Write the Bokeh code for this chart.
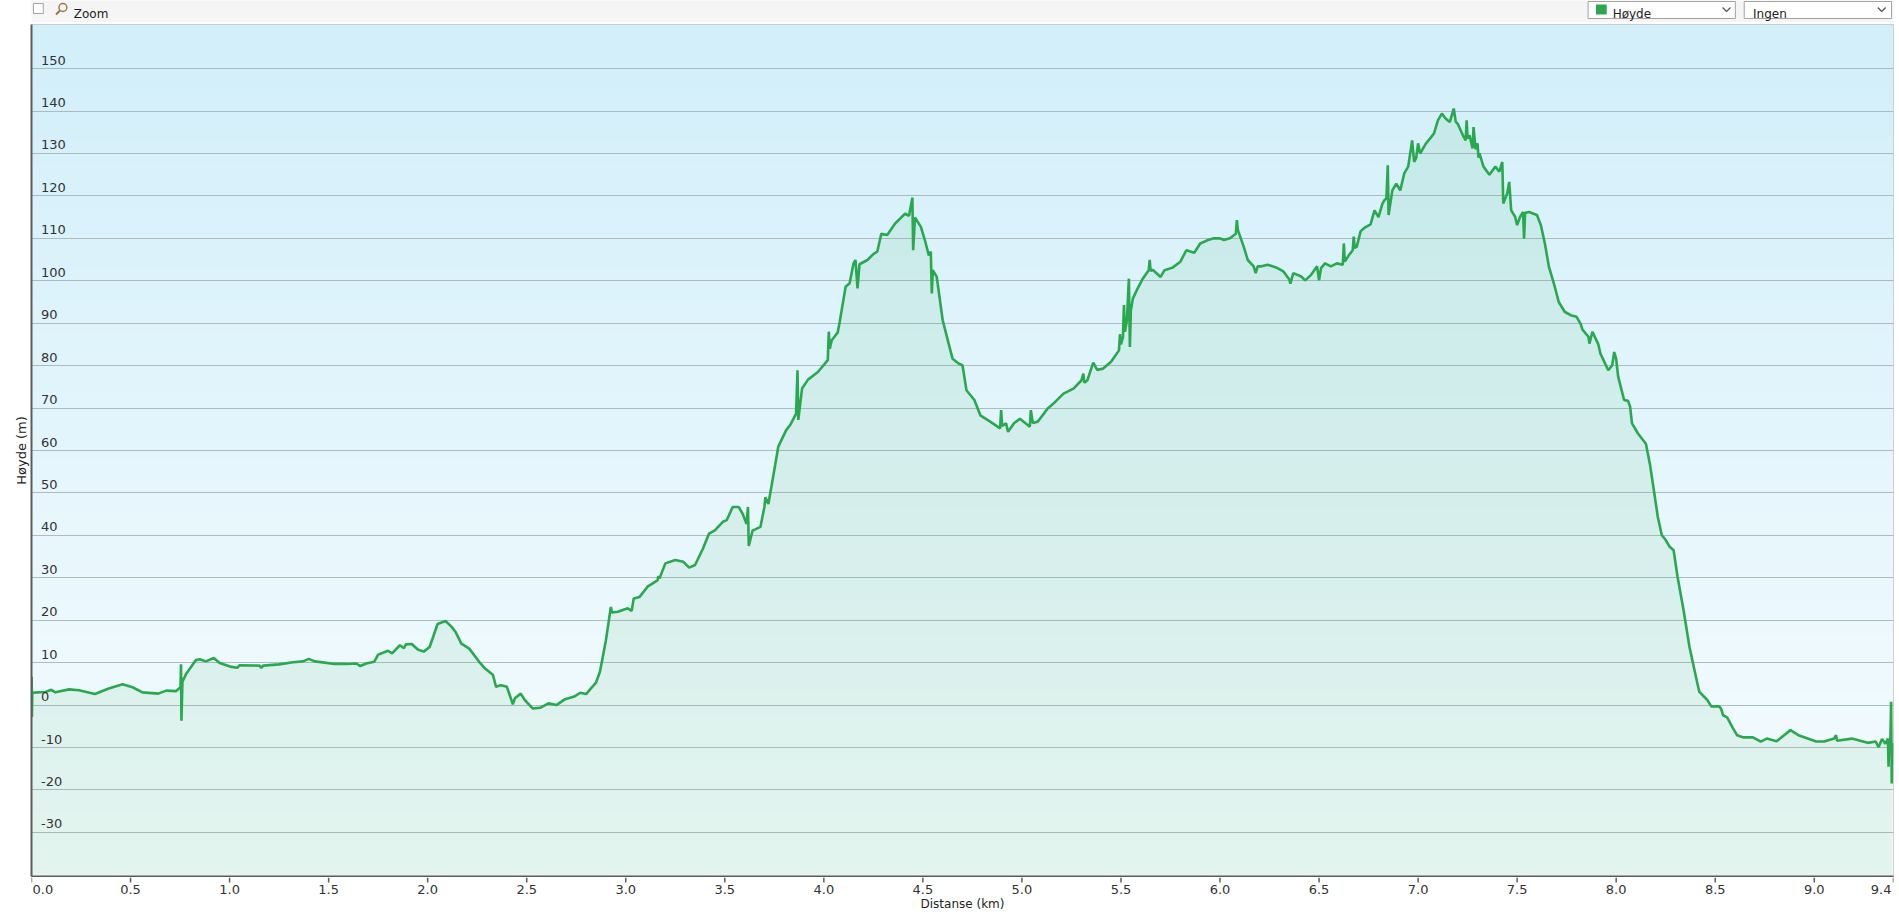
import numpy as np
from bokeh.plotting import figure
from bokeh.layouts import column
from bokeh.models import Range1d, FixedTicker, LabelSet, ColumnDataSource
from bokeh.core.properties import value
from bokeh.embed import file_html
from bokeh.resources import INLINE

# ---------------- data ----------------
distance_km = [
    0.000, 0.001, 0.002, 0.004, 0.03, 0.07, 0.10, 0.12, 0.19, 0.24,
    0.32, 0.39, 0.46, 0.51, 0.56, 0.64, 0.68, 0.73, 0.752, 0.755,
    0.757, 0.762, 0.78, 0.80, 0.83, 0.85, 0.88, 0.92, 0.95, 1.01,
    1.04, 1.05, 1.15, 1.16, 1.17, 1.25, 1.32, 1.37, 1.40, 1.43,
    1.48, 1.53, 1.59, 1.64, 1.66, 1.69, 1.73, 1.75, 1.80, 1.82,
    1.86, 1.88, 1.89, 1.92, 1.95, 1.98, 2.01, 2.05, 2.09, 2.12,
    2.14, 2.17, 2.21, 2.26, 2.29, 2.33, 2.345, 2.37, 2.40, 2.43,
    2.44, 2.47, 2.49, 2.53, 2.57, 2.61, 2.65, 2.69, 2.74, 2.77,
    2.80, 2.82, 2.85, 2.87, 2.90, 2.92, 2.925, 2.93, 2.96, 3.01,
    3.03, 3.04, 3.07, 3.11, 3.16, 3.165, 3.17, 3.20, 3.25, 3.29,
    3.32, 3.35, 3.39, 3.42, 3.45, 3.49, 3.51, 3.54, 3.57, 3.59,
    3.61, 3.617, 3.621, 3.64, 3.68, 3.70, 3.705, 3.72, 3.75, 3.77,
    3.81, 3.83, 3.86, 3.867, 3.871, 3.89, 3.92, 3.97, 4.02, 4.025,
    4.03, 4.04, 4.07, 4.08, 4.11, 4.13, 4.15, 4.16, 4.17, 4.18,
    4.22, 4.25, 4.27, 4.29, 4.32, 4.36, 4.39, 4.41, 4.43, 4.447,
    4.451, 4.46, 4.49, 4.51, 4.53, 4.54, 4.545, 4.55, 4.57, 4.60,
    4.63, 4.65, 4.68, 4.70, 4.72, 4.76, 4.79, 4.84, 4.89, 4.895,
    4.90, 4.92, 4.93, 4.96, 4.99, 5.04, 5.045, 5.055, 5.08, 5.13,
    5.16, 5.21, 5.26, 5.30, 5.31, 5.315, 5.33, 5.36, 5.38, 5.41,
    5.45, 5.49, 5.495, 5.50, 5.51, 5.515, 5.52, 5.53, 5.54, 5.545,
    5.55, 5.56, 5.58, 5.61, 5.64, 5.645, 5.65, 5.66, 5.70, 5.72,
    5.76, 5.80, 5.83, 5.87, 5.90, 5.94, 5.97, 6.00, 6.02, 6.05,
    6.08, 6.085, 6.09, 6.12, 6.14, 6.17, 6.18, 6.19, 6.21, 6.24,
    6.29, 6.32, 6.35, 6.355, 6.37, 6.41, 6.43, 6.46, 6.49, 6.50,
    6.51, 6.53, 6.56, 6.59, 6.62, 6.625, 6.63, 6.65, 6.67, 6.675,
    6.68, 6.69, 6.71, 6.73, 6.76, 6.78, 6.80, 6.82, 6.83, 6.84,
    6.847, 6.851, 6.87, 6.89, 6.91, 6.93, 6.95, 6.97, 6.98, 6.99,
    7.00, 7.01, 7.04, 7.06, 7.08, 7.10, 7.12, 7.14, 7.16, 7.18,
    7.19, 7.20, 7.23, 7.24, 7.245, 7.25, 7.26, 7.275, 7.28, 7.29,
    7.30, 7.305, 7.31, 7.33, 7.36, 7.39, 7.41, 7.425, 7.43, 7.45,
    7.46, 7.47, 7.49, 7.50, 7.515, 7.53, 7.535, 7.54, 7.56, 7.60,
    7.62, 7.64, 7.66, 7.69, 7.71, 7.74, 7.77, 7.80, 7.82, 7.83,
    7.86, 7.865, 7.88, 7.91, 7.92, 7.96, 7.98, 7.99, 8.00, 8.01,
    8.04, 8.06, 8.07, 8.08, 8.11, 8.15, 8.17, 8.19, 8.21, 8.23,
    8.25, 8.27, 8.29, 8.31, 8.34, 8.37, 8.41, 8.42, 8.46, 8.48,
    8.52, 8.53, 8.54, 8.56, 8.59, 8.61, 8.64, 8.69, 8.73, 8.76,
    8.81, 8.88, 8.92, 9.01, 9.05, 9.10, 9.11, 9.115, 9.19, 9.27,
    9.31, 9.325, 9.342, 9.359, 9.372, 9.375, 9.378, 9.384, 9.388, 9.391,
    9.394,
]
elevation_m = [
    2.9, 6.7, -2.8, 2.9, 3.0, 3.1, 3.6, 3.0, 3.7, 3.5,
    2.6, 3.9, 4.9, 4.2, 3.0, 2.7, 3.4, 3.3, 4.2, 9.6,
    -3.7, 5.5, 7.3, 8.6, 10.6, 10.8, 10.3, 11.1, 9.9, 9.0,
    8.8, 9.4, 9.3, 8.8, 9.3, 9.6, 10.1, 10.3, 10.9, 10.3,
    10.0, 9.7, 9.7, 9.8, 9.2, 9.8, 10.2, 11.9, 12.8, 12.2,
    14.1, 13.4, 14.3, 14.4, 13.1, 12.6, 13.7, 19.1, 19.8, 18.5,
    17.3, 14.5, 13.3, 10.2, 8.6, 7.1, 4.3, 4.7, 4.3, 0.2,
    1.6, 2.7, 1.2, -0.8, -0.6, 0.4, 0.0, 1.3, 2.0, 2.9,
    2.6, 3.7, 5.3, 7.9, 15.3, 21.6, 23.1, 21.8, 22.0, 22.8,
    22.2, 25.1, 25.5, 27.9, 29.4, 30.4, 29.8, 33.4, 34.2, 33.8,
    32.4, 33.0, 36.9, 40.4, 41.2, 43.2, 43.6, 46.7, 46.7, 45.1,
    42.7, 46.7, 37.5, 41.1, 42.0, 46.7, 49.0, 47.4, 55.4, 60.9,
    64.8, 66.0, 68.7, 78.9, 67.2, 74.6, 76.7, 78.5, 81.3, 88.0,
    84.0, 86.0, 87.8, 90.3, 98.6, 99.4, 104.1, 104.9, 98.2, 103.9,
    104.9, 106.3, 106.9, 111.1, 110.8, 113.5, 114.9, 115.8, 115.3, 119.6,
    107.2, 114.9, 112.7, 109.6, 106.0, 106.9, 97.0, 102.5, 100.9, 90.7,
    85.2, 81.6, 80.5, 80.1, 74.2, 71.9, 68.3, 66.8, 65.2, 69.5,
    65.8, 66.4, 64.4, 66.4, 67.5, 65.6, 69.5, 66.5, 66.8, 69.9,
    71.1, 73.4, 74.6, 76.5, 78.1, 76.0, 76.5, 80.7, 79.0, 79.3,
    80.9, 83.6, 87.4, 85.0, 86.7, 94.3, 88.0, 90.7, 100.5, 84.4,
    93.0, 95.8, 97.8, 100.5, 102.5, 104.9, 102.3, 102.6, 100.9, 102.5,
    103.1, 104.5, 107.2, 106.6, 108.8, 109.6, 110.0, 110.0, 109.6, 110.0,
    111.1, 114.3, 112.0, 108.0, 104.9, 103.4, 101.8, 103.4, 103.4, 103.8,
    103.0, 102.2, 100.3, 99.3, 101.8, 101.0, 100.1, 101.4, 103.4, 100.1,
    103.0, 104.1, 103.4, 104.1, 103.8, 108.8, 104.5, 106.0, 107.2, 110.4,
    107.8, 108.0, 111.7, 112.5, 113.3, 116.6, 115.0, 118.2, 119.0, 119.4,
    127.2, 115.5, 121.3, 122.9, 121.3, 125.3, 126.9, 133.1, 128.0, 128.9,
    132.4, 130.0, 132.4, 133.5, 134.7, 137.8, 139.4, 138.2, 137.4, 140.6,
    137.5, 137.0, 133.9, 133.1, 137.8, 133.5, 134.3, 131.2, 136.2, 131.0,
    132.4, 129.0, 130.0, 126.9, 125.0, 126.9, 125.7, 128.0, 118.2, 120.6,
    123.3, 116.6, 115.1, 113.1, 115.1, 116.2, 109.9, 116.0, 116.2, 115.5,
    113.1, 108.8, 103.4, 98.6, 95.0, 92.7, 91.9, 91.5, 89.9, 88.5,
    86.8, 85.2, 88.0, 85.0, 82.9, 78.9, 80.1, 83.2, 81.6, 77.4,
    71.9, 71.7, 70.4, 66.4, 64.0, 61.6, 56.9, 50.7, 44.4, 40.1,
    38.9, 37.3, 36.5, 30.2, 22.4, 13.7, 5.1, 3.1, 1.2, -0.3,
    -0.3, -0.9, -2.4, -2.9, -5.5, -7.1, -7.6, -7.6, -8.6, -7.9,
    -8.5, -5.9, -7.1, -8.6, -8.6, -7.9, -7.1, -8.4, -7.9, -8.9,
    -8.6, -9.9, -8.0, -9.1, -7.9, -14.5, -8.5, -8.6, 0.8, -18.5,
    -9.0,
]
assert len(distance_km) == len(elevation_m)

x_ticks = [0.0, 0.5, 1.0, 1.5, 2.0, 2.5, 3.0, 3.5, 4.0, 4.5,
           5.0, 5.5, 6.0, 6.5, 7.0, 7.5, 8.0, 8.5, 9.0, 9.4]
x_tick_labels = ["0.0", "0.5", "1.0", "1.5", "2.0", "2.5", "3.0", "3.5", "4.0", "4.5",
                 "5.0", "5.5", "6.0", "6.5", "7.0", "7.5", "8.0", "8.5", "9.0", "9.4"]
y_ticks = [-30, -20, -10, 0, 10, 20, 30, 40, 50, 60, 70, 80, 90,
           100, 110, 120, 130, 140, 150]
y_tick_labels = [str(v) for v in y_ticks]
y_axis_title = "Høyde (m)"
x_axis_title = "Distanse (km)"
ui_texts = ["Zoom", "Høyde", "Ingen"]

# ---------------- styling / layout ----------------
X_MIN, X_MAX = 0.0, 9.4
Y_MIN, Y_MAX = -40.4, 160.4
GREEN = "#2aa84f"
FONT = "DejaVu Sans"
TEXT_COLOR = "#333333"
AXIS_COLOR = "#5c5c5c"
W = 1896
LEFT, RIGHT = 31, 3          # frame borders (px)
TOP_H, MAIN_H, BOT_H = 22, 855, 34

# ---------- main chart ----------
p = figure(width=W, height=MAIN_H,
           x_range=Range1d(X_MIN, X_MAX), y_range=Range1d(Y_MIN, Y_MAX),
           output_backend="svg", toolbar_location=None,
           min_border_left=LEFT, min_border_right=RIGHT,
           min_border_top=2, min_border_bottom=1)
p.border_fill_color = "white"
p.outline_line_color = "#c4c4c4"
p.outline_line_width = 1

# vertical background gradient (light blue at top -> almost white at bottom)
n = 256
frac = np.linspace(0.0, 1.0, n)
top_rgb = np.array([210.0, 239.0, 250.0])
bot_rgb = np.array([247.0, 253.0, 255.0])
rgb = bot_rgb[None, :] + (top_rgb - bot_rgb)[None, :] * frac[:, None]
img = np.empty((n, 1), dtype=np.uint32)
view = img.view(dtype=np.uint8).reshape((n, 1, 4))
view[:, 0, 0] = rgb[:, 0].astype(np.uint8)
view[:, 0, 1] = rgb[:, 1].astype(np.uint8)
view[:, 0, 2] = rgb[:, 2].astype(np.uint8)
view[:, 0, 3] = 255
p.image_rgba(image=[img], x=X_MIN, y=Y_MIN, dw=X_MAX - X_MIN, dh=Y_MAX - Y_MIN,
             level="image")

src = ColumnDataSource(dict(x=distance_km, y=elevation_m))
p.varea(x="x", y1=Y_MIN, y2="y", source=src, fill_color=GREEN, fill_alpha=0.09)
p.line(x="x", y="y", source=src, line_color=GREEN, line_width=2.6)

# axes: only the axis lines here; ticks/labels are drawn separately
p.xaxis.ticker = FixedTicker(ticks=[])
p.xaxis.major_tick_out = 0
p.xaxis.major_tick_in = 0
p.xaxis.minor_tick_out = 0
p.xaxis.minor_tick_in = 0
p.xaxis.major_label_standoff = 0
p.xaxis.axis_line_color = AXIS_COLOR
p.xaxis.axis_line_width = 2
p.xgrid.visible = False

p.yaxis.ticker = FixedTicker(ticks=[])
p.yaxis.major_tick_out = 0
p.yaxis.major_tick_in = 0
p.yaxis.minor_tick_out = 0
p.yaxis.minor_tick_in = 0
p.yaxis.major_label_standoff = 0
p.yaxis.axis_line_color = AXIS_COLOR
p.yaxis.axis_line_width = 2
p.yaxis.axis_label = y_axis_title
p.yaxis.axis_label_text_font = FONT
p.yaxis.axis_label_text_font_size = "13px"
p.yaxis.axis_label_text_font_style = "normal"
p.yaxis.axis_label_text_color = "#222222"
p.yaxis.axis_label_standoff = 3
p.ygrid.ticker = FixedTicker(ticks=y_ticks)
p.ygrid.grid_line_color = "#9aa8ad"
p.ygrid.grid_line_alpha = 0.75
p.ygrid.grid_line_width = 1

# y tick labels drawn inside the plot area, above their grid lines
ysrc = ColumnDataSource(dict(x=[X_MIN] * len(y_ticks), y=y_ticks, text=y_tick_labels))
p.add_layout(LabelSet(x="x", y="y", text="text", source=ysrc,
                      x_offset=9.5, y_offset=4,
                      text_font=value(FONT), text_font_size="13px",
                      text_color=TEXT_COLOR, text_align="left",
                      text_baseline="alphabetic"))

# ---------- strip below: x ticks, tick labels, axis title ----------
p2 = figure(width=W, height=BOT_H, x_range=p.x_range, y_range=Range1d(-BOT_H, 0),
            output_backend="svg", toolbar_location=None,
            x_axis_location=None, y_axis_location=None,
            min_border_left=LEFT, min_border_right=RIGHT,
            min_border_top=0, min_border_bottom=0)
p2.outline_line_color = None
p2.background_fill_color = "white"
p2.border_fill_color = "white"
p2.grid.visible = False
p2.segment(x0=x_ticks, y0=[0] * len(x_ticks), x1=x_ticks, y1=[-5] * len(x_ticks),
           line_color=AXIS_COLOR, line_width=1.5)

def tick_text(xs, texts, align, dx):
    p2.text(x=xs, y=[-7] * len(xs), text=texts, x_offset=dx,
            text_font=value(FONT), text_font_size="13px", text_color=TEXT_COLOR,
            text_align=align, text_baseline="top")

tick_text(x_ticks[:1], x_tick_labels[:1], "left", 1)
tick_text(x_ticks[1:-1], x_tick_labels[1:-1], "center", 0)
tick_text(x_ticks[-1:], x_tick_labels[-1:], "right", -2)
p2.text(x=[(X_MIN + X_MAX) / 2], y=[-BOT_H + 1], text=[x_axis_title],
        text_font=value(FONT), text_font_size="12px", text_color="#222222",
        text_align="center", text_baseline="bottom")

# ---------- strip above: the page's controls ----------
p0 = figure(width=W, height=TOP_H, x_range=Range1d(0, W), y_range=Range1d(-TOP_H, 0),
            output_backend="svg", toolbar_location=None,
            x_axis_location=None, y_axis_location=None,
            min_border_left=0, min_border_right=0, min_border_top=0, min_border_bottom=0)
p0.outline_line_color = None
p0.background_fill_color = "#f5f5f5"
p0.border_fill_color = "white"
p0.grid.visible = False
p0.quad(left=[2, 1585, 1744], right=[12, 1735, 1894], top=[-3, -1, -1],
        bottom=[-13, -18, -18], fill_color="white", line_color="#a3a3a3")
p0.quad(left=[1593], right=[1604], top=[-4], bottom=[-14], fill_color=GREEN,
        line_color=None)
p0.circle(x=[32], y=[-7], radius=4, fill_color=None, line_color="#9a7a4a",
          line_width=1.5)
p0.segment(x0=[29], y0=[-10], x1=[25], y1=[-14], line_color="#9a7a4a", line_width=2)
p0.multi_line(xs=[[1722, 1726, 1730], [1880, 1884, 1888]],
              ys=[[-7, -11, -7], [-7, -11, -7]], line_color="#555555", line_width=1.2)
p0.text(x=[43, 1610, 1753], y=[-13, -13, -13], text=ui_texts,
        text_font=value(FONT), text_font_size="12px", text_color="#222222",
        text_align="left", text_baseline="alphabetic")

layout = column(p0, p, p2, spacing=0)
open("out.html", "w").write(file_html(layout, INLINE))
